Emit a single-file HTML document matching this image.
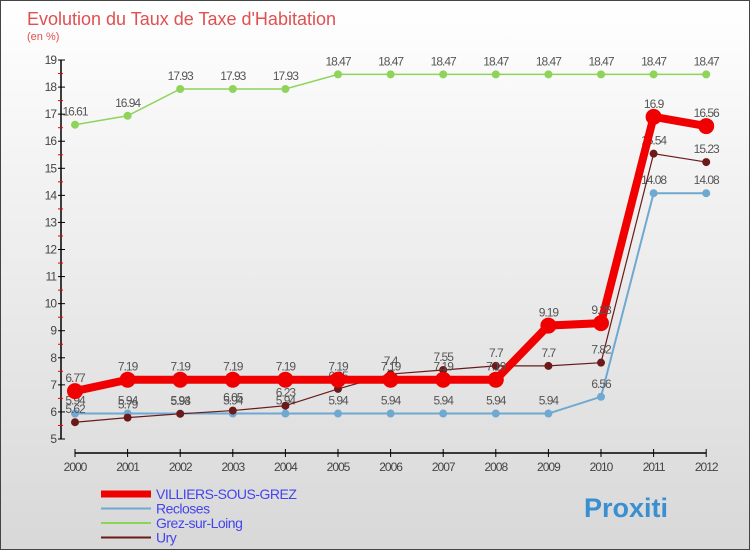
<!DOCTYPE html>
<html><head><meta charset="utf-8"><style>
body{margin:0}
#c{width:748px;height:548px;border:1px solid #444;background:linear-gradient(#fff,#d8d8d8);font-family:"Liberation Sans",sans-serif;position:relative;overflow:hidden}
</style></head><body>
<div id="c">
<svg id="s" width="748" height="548" xmlns="http://www.w3.org/2000/svg"></svg>
</div>
<script>
const years=["2000","2001","2002","2003","2004","2005","2006","2007","2008","2009","2010","2011","2012"];
const villiers=[6.77,7.19,7.19,7.19,7.19,7.19,7.19,7.19,7.19,9.19,9.28,16.9,16.56];
const recloses=[5.94,5.94,5.94,5.94,5.94,5.94,5.94,5.94,5.94,5.94,6.56,14.08,14.08];
const grez=[16.61,16.94,17.93,17.93,17.93,18.47,18.47,18.47,18.47,18.47,18.47,18.47,18.47];
const ury=[5.62,5.79,5.93,6.05,6.23,6.85,7.4,7.55,7.7,7.7,7.82,15.54,15.23];
const yTicks=[5,6,7,8,9,10,11,12,13,14,15,16,17,18,19];
const NS="http://www.w3.org/2000/svg",s=document.getElementById('s');
const X=i=>74+i*52.6, Y=v=>438-(v-5)*27.07;
function el(t,a,txt){const e=document.createElementNS(NS,t);for(const k in a)e.setAttribute(k,a[k]);if(txt!==undefined)e.textContent=txt;s.appendChild(e);return e;}
let e=el('text',{x:26,y:24,'font-size':18,fill:'#e05050'},'Evolution du Taux de Taxe d\'Habitation');


e=el('text',{x:26,y:39,'font-size':11,fill:'#e05050'},'(en %)');


e=el('line',{x1:60,y1:Y(19),x2:60,y2:Y(5),stroke:'#000','stroke-width':1.5});


yTicks.forEach(v=>{
 let t=el('line',{x1:57,x2:64,y1:Y(v),y2:Y(v),stroke:'#000'});
 
 
 let h=el('line',{x1:57,x2:62,y1:Y(v+0.5),y2:Y(v+0.5),stroke:'#e00'});
 if(v==19)h.remove();
 let l=el('text',{x:55,y:Y(v)+4,'font-size':12,fill:'#444','text-anchor':'end','letter-spacing':'-1'},v);
 
 
});
e=el('line',{x1:X(0),x2:X(12),y1:452,y2:452,stroke:'#000','stroke-width':1.5});


years.forEach((y,i)=>{
 el('line',{x1:X(i),x2:X(i),y1:448,y2:456,stroke:'#000'});
 let l=el('text',{x:X(i),y:470,'font-size':12,fill:'#444','text-anchor':'middle','letter-spacing':'-1'},y);
 
 
});
function series(d,col,w,r,name){
 let p=el('polyline',{points:d.map((v,i)=>X(i)+','+Y(v)).join(' '),fill:'none',stroke:col,'stroke-width':w});
 
 
 d.forEach((v,i)=>{
  let c=el('circle',{cx:X(i),cy:Y(v),r:r,fill:col});
  
  
  let t=el('text',{x:X(i),y:Y(v)-9,'font-size':12,fill:'#555','text-anchor':'middle','letter-spacing':'-1'},v);
  
  
 });
}
series(grez,'#8fd45a',1.5,4,'grez-sur-loing');
series(recloses,'#6fa8d0',2,4,'recloses');
series(ury,'#6b1a1a',1.2,4,'ury');
series(villiers,'#f00000',8,8,'villiers-sous-grez');
const leg=[['VILLIERS-SOUS-GREZ','#f00000',7],['Recloses','#6fa8d0',2],['Grez-sur-Loing','#8fd45a',2],['Ury','#6b1a1a',2]];
leg.forEach((l,i)=>{
 let y=493+i*14.5;
 let ln=el('line',{x1:100,x2:150,y1:y,y2:y,stroke:l[1],'stroke-width':l[2]});
 
 
 let t=el('text',{x:155,y:y+5,'font-size':14,fill:'#4444ee','letter-spacing':'-0.5'},l[0]);
 
 
});
e=el('text',{x:583,y:516,'font-size':27,'font-weight':'bold',fill:'#3a8fd0'},'Proxiti');


</script>
</body></html>
